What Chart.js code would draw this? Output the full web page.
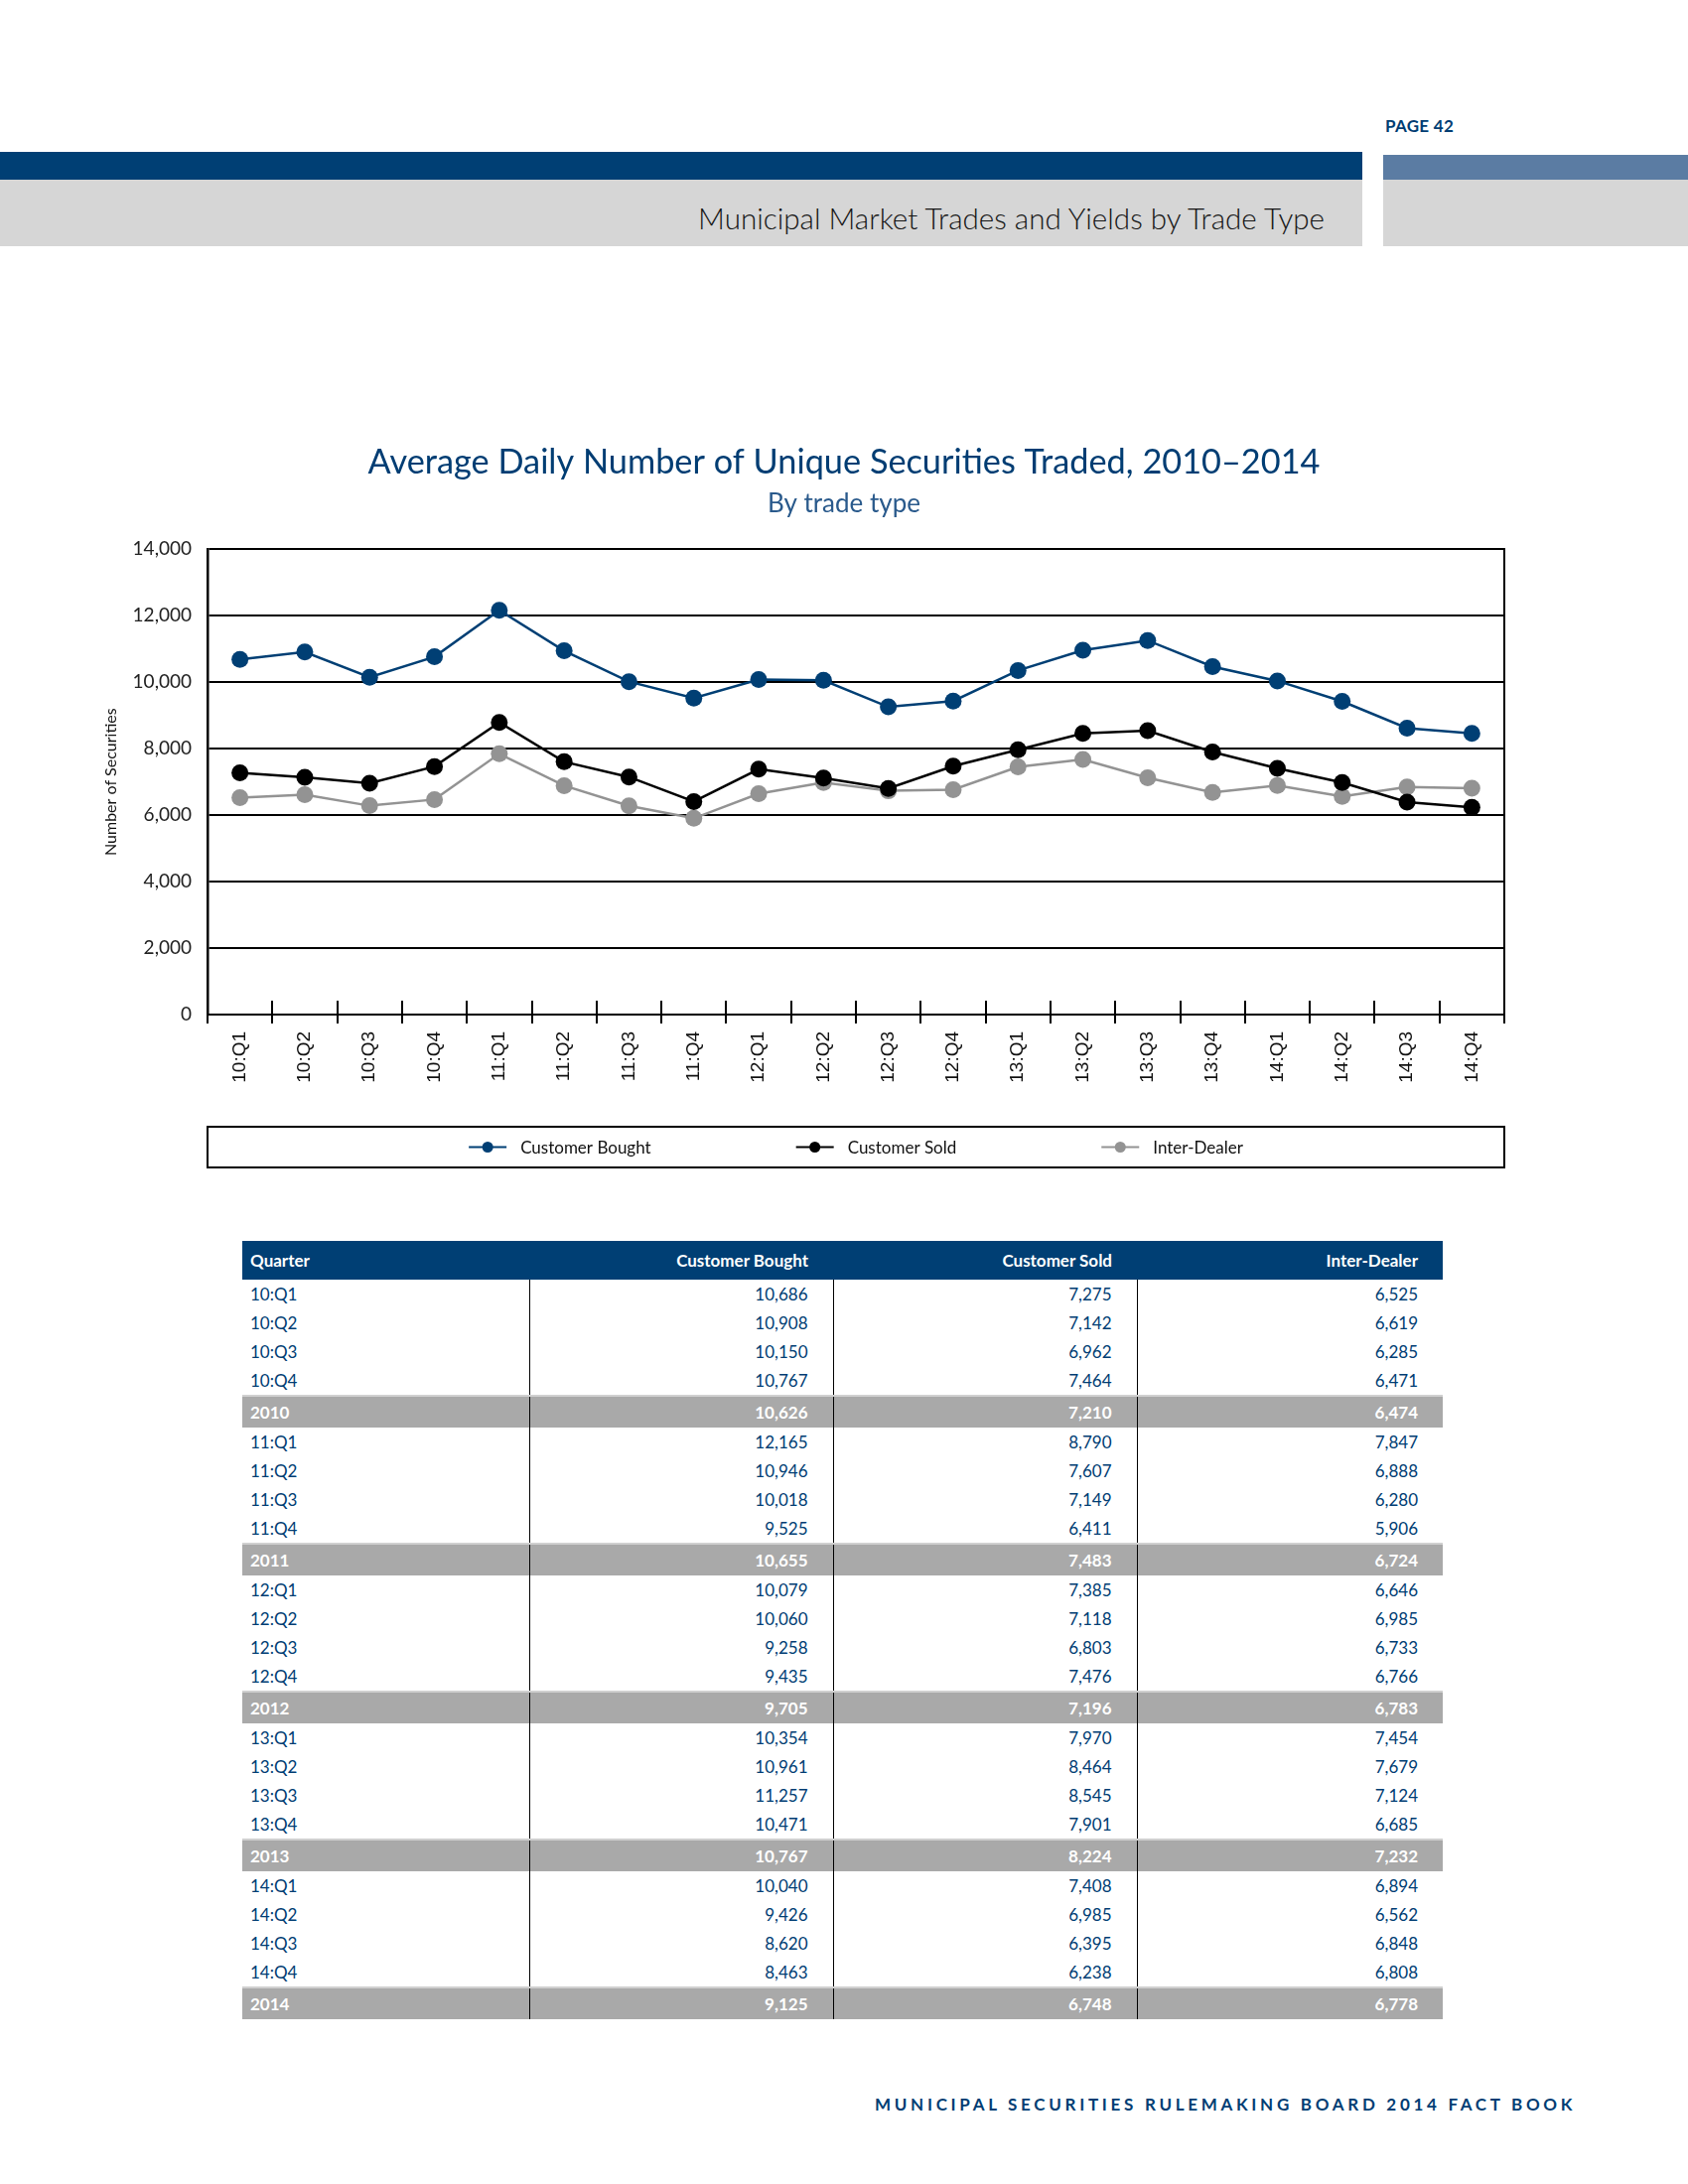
<!DOCTYPE html>
<html>
<head>
<meta charset="utf-8">
<script src="https://cdn.jsdelivr.net/npm/chart.js@4.4.0/dist/chart.umd.min.js"></script>
<style>
  body { margin: 0; width: 1700px; height: 2200px; background: #fff; position: relative; font-family: Lato, "Noto Sans", sans-serif; }
  .abs { position: absolute; }
  #pageNo { left: 1395px; top: 116px; font-size: 17px; font-weight: 700; color: #003d73; letter-spacing: 0.3px; }
  #barDark { left: 0; top: 153px; width: 1372px; height: 28px; background: #003f74; }
  #barLight { left: 1393px; top: 156px; width: 307px; height: 25px; background: #5b7ca3; }
  #bandL { left: 0; top: 181px; width: 1372px; height: 67px; background: #d6d6d6; }
  #bandR { left: 1393px; top: 181px; width: 307px; height: 67px; background: #d6d6d6; }
  #section { right: 366px; top: 202px; font-size: 29.6px; color: #151515; font-weight: 300; white-space: nowrap; }
  #chartBox { left: 0; top: 420px; width: 1700px; height: 800px; }
  #tbl { left: 244px; top: 1250px; width: 1209px; border-collapse: collapse; table-layout: fixed; font-size: 17px; }
  #tbl th { background: #003f74; color: #fff; font-weight: 700; height: 39px; padding: 0 25px 0 8px; text-align: right; }
  #tbl th:first-child { text-align: left; }
  #tbl td { color: #003d73; height: 29px; padding: 0 25px 0 8px; text-align: right; }
  #tbl td:first-child { text-align: left; }
  #tbl td + td { border-left: 1.5px solid #000; }
  #tbl tr.year td { background: #a9a9a9; color: #fff; font-weight: 700; height: 31px; border-top: 2px solid #d0d0d0; }
  #footer { left: 881px; top: 2109px; font-size: 17px; font-weight: 700; color: #003d73; letter-spacing: 3.7px; white-space: nowrap; }
</style>
</head>
<body>
<div id="pageNo" class="abs">PAGE 42</div>
<div id="barDark" class="abs"></div>
<div id="barLight" class="abs"></div>
<div id="bandL" class="abs"></div>
<div id="bandR" class="abs"></div>
<div id="section" class="abs">Municipal Market Trades and Yields by Trade Type</div>

<div id="chartBox" class="abs"><canvas id="tradeChart"></canvas></div>

<table id="tbl" class="abs">
  <colgroup><col style="width:289px"><col style="width:306px"><col style="width:306px"><col style="width:308px"></colgroup>
  <thead><tr><th>Quarter</th><th>Customer Bought</th><th>Customer Sold</th><th>Inter-Dealer</th></tr></thead>
  <tbody id="tblBody"></tbody>
</table>

<div id="footer" class="abs">MUNICIPAL SECURITIES RULEMAKING BOARD 2014 FACT BOOK</div>

<script>
// Quarterly values
const quarters = ['10:Q1','10:Q2','10:Q3','10:Q4','11:Q1','11:Q2','11:Q3','11:Q4',
                  '12:Q1','12:Q2','12:Q3','12:Q4','13:Q1','13:Q2','13:Q3','13:Q4',
                  '14:Q1','14:Q2','14:Q3','14:Q4'];
const customerBought = [10686,10908,10150,10767,12165,10946,10018,9525,10079,10060,9258,9435,
                        10354,10961,11257,10471,10040,9426,8620,8463];
const customerSold = [7275,7142,6962,7464,8790,7607,7149,6411,7385,7118,6803,7476,
                      7970,8464,8545,7901,7408,6985,6395,6238];
const interDealer = [6525,6619,6285,6471,7847,6888,6280,5906,6646,6985,6733,6766,
                     7454,7679,7124,6685,6894,6562,6848,6808];

// Annual averages
const years = ['2010','2011','2012','2013','2014'];
const yearBought = [10626,10655,9705,10767,9125];
const yearSold = [7210,7483,7196,8224,6748];
const yearDealer = [6474,6724,6783,7232,6778];

const yTicks = [0,2000,4000,6000,8000,10000,12000,14000];

const fmt = v => v.toLocaleString('en-US');

// Build the table body
const body = document.getElementById('tblBody');
years.forEach((yr, y) => {
  for (let q = 0; q < 4; q++) {
    const i = y * 4 + q;
    const tr = document.createElement('tr');
    [quarters[i], fmt(customerBought[i]), fmt(customerSold[i]), fmt(interDealer[i])].forEach(t => {
      const td = document.createElement('td'); td.textContent = t; tr.appendChild(td);
    });
    body.appendChild(tr);
  }
  const tr = document.createElement('tr');
  tr.className = 'year';
  [yr, fmt(yearBought[y]), fmt(yearSold[y]), fmt(yearDealer[y])].forEach(t => {
    const td = document.createElement('td'); td.textContent = t; tr.appendChild(td);
  });
  body.appendChild(tr);
});

// Ticks crossing the x axis and the boxed legend
const framePlugin = {
  id: 'frame',
  afterDraw(chart) {
    const {ctx, chartArea: a, scales: {x}} = chart;
    ctx.save();
    ctx.strokeStyle = '#000';
    ctx.lineWidth = 2;
    ctx.beginPath();
    ctx.moveTo(a.right, a.bottom); ctx.lineTo(a.right, a.bottom + 9);
    for (let i = 0; i <= quarters.length; i++) {
      const px = Math.round(x.getPixelForValue(i - 0.5));
      ctx.moveTo(px, a.bottom - 14); ctx.lineTo(px, a.bottom + 9);
    }
    ctx.stroke();

    // legend box
    const top = a.bottom + 113, h = 41;
    ctx.lineWidth = 2;
    ctx.strokeRect(a.left, top, a.right - a.left, h);
    ctx.font = '17px Lato, "Noto Sans", sans-serif';
    ctx.textBaseline = 'middle';
    const items = chart.data.datasets.map(d => ({label: d.label, color: d.borderColor}));
    const markW = 38, gapText = 14, gapItem = 146;
    const widths = items.map(it => markW + gapText + ctx.measureText(it.label).width);
    const total = widths.reduce((s, w) => s + w, 0) + gapItem * (items.length - 1);
    let cx = (a.left + a.right) / 2 - total / 2;
    const cy = top + h / 2;
    items.forEach((it, k) => {
      ctx.strokeStyle = it.color; ctx.fillStyle = it.color; ctx.lineWidth = 2;
      ctx.beginPath(); ctx.moveTo(cx, cy); ctx.lineTo(cx + markW, cy); ctx.stroke();
      ctx.beginPath(); ctx.arc(cx + markW / 2, cy, 5.5, 0, Math.PI * 2); ctx.fill();
      ctx.fillStyle = '#111';
      ctx.fillText(it.label, cx + markW + gapText, cy + 1);
      cx += widths[k] + gapItem;
    });
    ctx.restore();
  }
};

const series = (label, data, color) => ({
  label, data,
  borderColor: color, backgroundColor: color,
  borderWidth: 2.5,
  pointRadius: 8.5, pointHoverRadius: 8.5,
  pointBackgroundColor: color, pointBorderWidth: 0,
  tension: 0
});

const tradeChart = new Chart(document.getElementById('tradeChart'), {
  type: 'line',
  data: {
    labels: quarters,
    datasets: [
      series('Customer Bought', customerBought, '#003f74'),
      series('Customer Sold', customerSold, '#000000'),
      series('Inter-Dealer', interDealer, '#939393')
    ]
  },
  options: {
    responsive: true,
    maintainAspectRatio: false,
    animation: false,
    // equal side padding keeps the title centred on the page
    layout: { padding: { left: 98, right: 98, top: 0, bottom: 100 } },
    plugins: {
      legend: { display: false },
      tooltip: { enabled: false },
      title: {
        display: true,
        text: 'Average Daily Number of Unique Securities Traded, 2010\u20132014',
        color: '#003d73',
        font: { family: 'Lato, "Noto Sans", sans-serif', size: 34.3, weight: '400' },
        padding: { top: 25, bottom: 3 }
      },
      subtitle: {
        display: true,
        text: 'By trade type',
        color: '#2a5a8c',
        font: { family: 'Lato, "Noto Sans", sans-serif', size: 26, weight: '400' },
        padding: { top: 3, bottom: 30 }
      }
    },
    scales: {
      x: {
        offset: true,
        grid: { display: false, drawTicks: false },
        border: { display: true, color: '#000', width: 2 },
        ticks: {
          color: '#111', minRotation: 90, maxRotation: 90, padding: 17,
          font: { family: '"Liberation Sans", Arial, sans-serif', size: 19 }
        },
        afterFit: s => { s.height = 98; }
      },
      y: {
        min: 0, max: 14000,
        afterBuildTicks: s => { s.ticks = yTicks.map(v => ({ value: v })); },
        grid: { color: '#000', lineWidth: 2, drawTicks: false },
        border: { display: true, color: '#000', width: 2.5 },
        ticks: {
          color: '#222', padding: 16,
          font: { family: 'Lato, "Noto Sans", sans-serif', size: 19 },
          callback: v => fmt(v)
        },
        title: {
          display: true, text: 'Number of Securities', color: '#111',
          font: { family: 'Lato, "Noto Sans", sans-serif', size: 16 },
          padding: { top: 4.4, bottom: 0 }
        },
        afterFit: s => { s.width = 111; }
      },
      // empty right axis: draws the right edge of the plot frame
      yRight: {
        position: 'right',
        min: 0, max: 14000,
        grid: { display: false, drawTicks: false },
        border: { display: true, color: '#000', width: 2 },
        ticks: { display: false },
        afterFit: s => { s.width = 87; }
      }
    }
  },
  plugins: [framePlugin]
});
</script>
</body>
</html>
